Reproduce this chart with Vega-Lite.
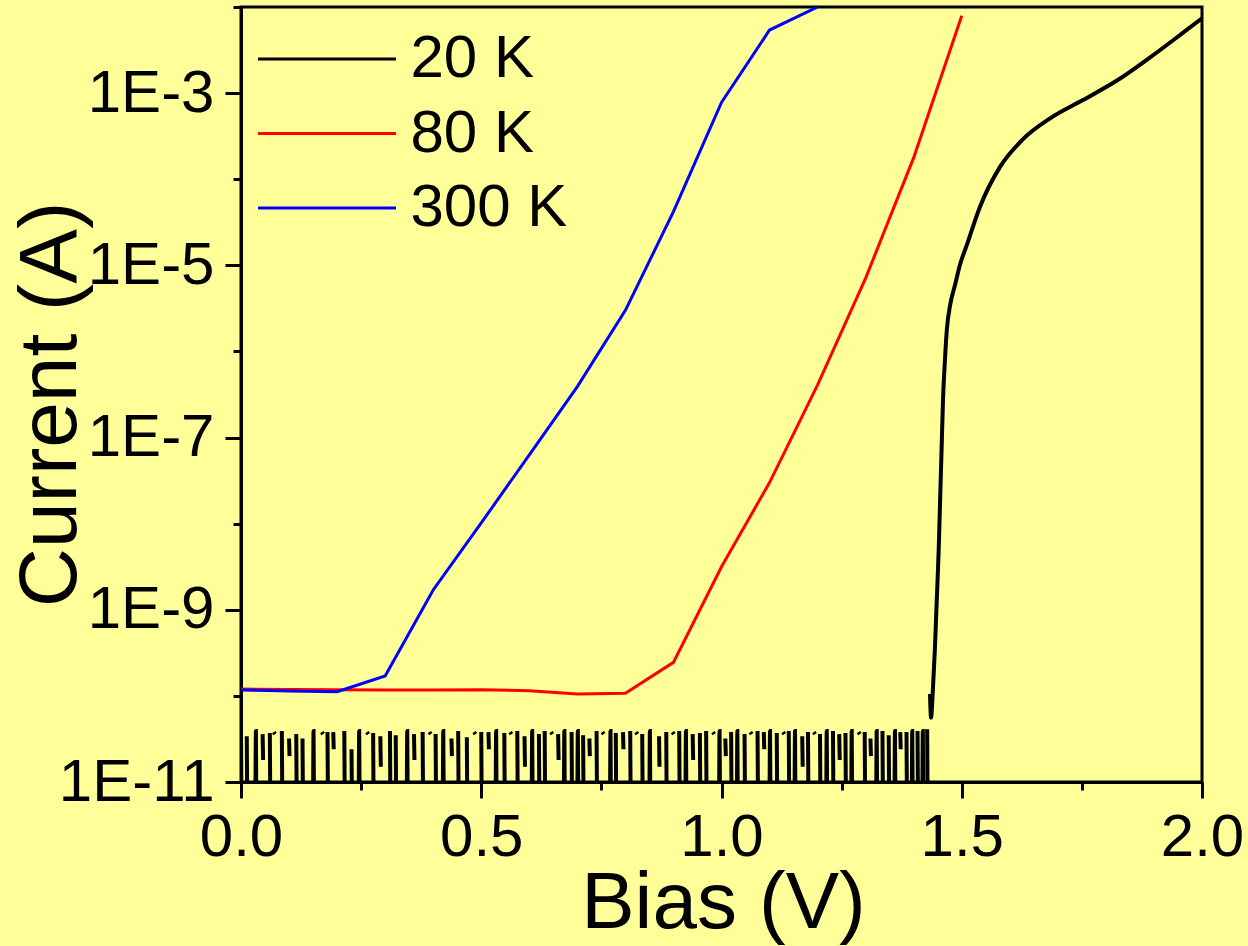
{
"$schema":"https://vega.github.io/schema/vega-lite/v6.json",
"width":961,"height":775,
"autosize":{"type":"none"},
"padding":{"left":241,"top":7,"right":46,"bottom":164},
"background":"#ffff99",
"config":{"view":{"stroke":"#000000","strokeWidth":3,"fill":"#ffff99"},"font":"Liberation Sans"},
"data":{"values":[
{"T":"20 K","V":0.000,"I":4.0e-11},{"T":"20 K","V":0.001,"I":5e-12},{"T":"20 K","V":0.002,"I":null},
{"T":"20 K","V":0.012,"I":3.4e-11},{"T":"20 K","V":0.013,"I":5e-12},{"T":"20 K","V":0.014,"I":null},
{"T":"20 K","V":0.030,"I":5e-12},{"T":"20 K","V":0.031,"I":3.9e-11},{"T":"20 K","V":0.032,"I":5e-12},{"T":"20 K","V":0.033,"I":null},
{"T":"20 K","V":0.045,"I":3.6e-11},{"T":"20 K","V":0.046,"I":1.8e-11},{"T":"20 K","V":0.047,"I":null},
{"T":"20 K","V":0.060,"I":3.7e-11},{"T":"20 K","V":0.061,"I":5e-12},{"T":"20 K","V":0.062,"I":null},
{"T":"20 K","V":0.068,"I":3.8e-11},{"T":"20 K","V":0.071,"I":3.6e-11},{"T":"20 K","V":0.072,"I":null},
{"T":"20 K","V":0.085,"I":3.9e-11},{"T":"20 K","V":0.086,"I":5e-12},{"T":"20 K","V":0.087,"I":null},
{"T":"20 K","V":0.100,"I":3.2e-11},{"T":"20 K","V":0.101,"I":2.0e-11},{"T":"20 K","V":0.102,"I":null},
{"T":"20 K","V":0.115,"I":3.6e-11},{"T":"20 K","V":0.116,"I":5e-12},{"T":"20 K","V":0.117,"I":null},
{"T":"20 K","V":0.128,"I":3.2e-11},{"T":"20 K","V":0.129,"I":5e-12},{"T":"20 K","V":0.130,"I":null},
{"T":"20 K","V":0.150,"I":5e-12},{"T":"20 K","V":0.151,"I":3.9e-11},{"T":"20 K","V":0.152,"I":5e-12},{"T":"20 K","V":0.153,"I":null},
{"T":"20 K","V":0.168,"I":3.8e-11},{"T":"20 K","V":0.171,"I":3.6e-11},{"T":"20 K","V":0.172,"I":null},
{"T":"20 K","V":0.180,"I":3.8e-11},{"T":"20 K","V":0.181,"I":5e-12},{"T":"20 K","V":0.182,"I":null},
{"T":"20 K","V":0.192,"I":3.8e-11},{"T":"20 K","V":0.193,"I":2.4e-11},{"T":"20 K","V":0.194,"I":null},
{"T":"20 K","V":0.215,"I":3.9e-11},{"T":"20 K","V":0.216,"I":5e-12},{"T":"20 K","V":0.217,"I":null},
{"T":"20 K","V":0.230,"I":2.4e-11},{"T":"20 K","V":0.231,"I":5e-12},{"T":"20 K","V":0.232,"I":null},
{"T":"20 K","V":0.245,"I":5e-12},{"T":"20 K","V":0.246,"I":3.9e-11},{"T":"20 K","V":0.247,"I":5e-12},{"T":"20 K","V":0.248,"I":null},
{"T":"20 K","V":0.262,"I":3.8e-11},{"T":"20 K","V":0.265,"I":3.6e-11},{"T":"20 K","V":0.266,"I":null},
{"T":"20 K","V":0.275,"I":3.7e-11},{"T":"20 K","V":0.276,"I":5e-12},{"T":"20 K","V":0.277,"I":null},
{"T":"20 K","V":0.290,"I":3.4e-11},{"T":"20 K","V":0.291,"I":1.5e-11},{"T":"20 K","V":0.292,"I":null},
{"T":"20 K","V":0.310,"I":3.9e-11},{"T":"20 K","V":0.311,"I":5e-12},{"T":"20 K","V":0.312,"I":null},
{"T":"20 K","V":0.322,"I":3.5e-11},{"T":"20 K","V":0.323,"I":5e-12},{"T":"20 K","V":0.324,"I":null},
{"T":"20 K","V":0.345,"I":5e-12},{"T":"20 K","V":0.346,"I":3.9e-11},{"T":"20 K","V":0.347,"I":5e-12},{"T":"20 K","V":0.348,"I":null},
{"T":"20 K","V":0.360,"I":3.6e-11},{"T":"20 K","V":0.361,"I":1.8e-11},{"T":"20 K","V":0.362,"I":null},
{"T":"20 K","V":0.378,"I":3.8e-11},{"T":"20 K","V":0.379,"I":5e-12},{"T":"20 K","V":0.380,"I":null},
{"T":"20 K","V":0.392,"I":3.8e-11},{"T":"20 K","V":0.395,"I":3.6e-11},{"T":"20 K","V":0.396,"I":null},
{"T":"20 K","V":0.405,"I":3.6e-11},{"T":"20 K","V":0.406,"I":5e-12},{"T":"20 K","V":0.407,"I":null},
{"T":"20 K","V":0.420,"I":5e-12},{"T":"20 K","V":0.421,"I":3.9e-11},{"T":"20 K","V":0.422,"I":5e-12},{"T":"20 K","V":0.423,"I":null},
{"T":"20 K","V":0.438,"I":3.2e-11},{"T":"20 K","V":0.439,"I":2.0e-11},{"T":"20 K","V":0.440,"I":null},
{"T":"20 K","V":0.452,"I":3.9e-11},{"T":"20 K","V":0.453,"I":5e-12},{"T":"20 K","V":0.454,"I":null},
{"T":"20 K","V":0.470,"I":3.3e-11},{"T":"20 K","V":0.471,"I":5e-12},{"T":"20 K","V":0.472,"I":null},
{"T":"20 K","V":0.485,"I":3.8e-11},{"T":"20 K","V":0.488,"I":3.6e-11},{"T":"20 K","V":0.489,"I":null},
{"T":"20 K","V":0.500,"I":3.8e-11},{"T":"20 K","V":0.501,"I":5e-12},{"T":"20 K","V":0.502,"I":null},
{"T":"20 K","V":0.515,"I":3.8e-11},{"T":"20 K","V":0.516,"I":2.4e-11},{"T":"20 K","V":0.517,"I":null},
{"T":"20 K","V":0.530,"I":5e-12},{"T":"20 K","V":0.531,"I":3.9e-11},{"T":"20 K","V":0.532,"I":5e-12},{"T":"20 K","V":0.533,"I":null},
{"T":"20 K","V":0.548,"I":3.7e-11},{"T":"20 K","V":0.549,"I":5e-12},{"T":"20 K","V":0.550,"I":null},
{"T":"20 K","V":0.560,"I":3.8e-11},{"T":"20 K","V":0.563,"I":3.6e-11},{"T":"20 K","V":0.564,"I":null},
{"T":"20 K","V":0.575,"I":3.9e-11},{"T":"20 K","V":0.576,"I":5e-12},{"T":"20 K","V":0.577,"I":null},
{"T":"20 K","V":0.590,"I":3.4e-11},{"T":"20 K","V":0.591,"I":1.5e-11},{"T":"20 K","V":0.592,"I":null},
{"T":"20 K","V":0.605,"I":5e-12},{"T":"20 K","V":0.606,"I":3.9e-11},{"T":"20 K","V":0.607,"I":5e-12},{"T":"20 K","V":0.608,"I":null},
{"T":"20 K","V":0.620,"I":3.6e-11},{"T":"20 K","V":0.621,"I":5e-12},{"T":"20 K","V":0.622,"I":null},
{"T":"20 K","V":0.632,"I":3.9e-11},{"T":"20 K","V":0.633,"I":5e-12},{"T":"20 K","V":0.634,"I":null},
{"T":"20 K","V":0.645,"I":3.8e-11},{"T":"20 K","V":0.648,"I":3.6e-11},{"T":"20 K","V":0.649,"I":null},
{"T":"20 K","V":0.660,"I":3.6e-11},{"T":"20 K","V":0.661,"I":1.8e-11},{"T":"20 K","V":0.662,"I":null},
{"T":"20 K","V":0.672,"I":5e-12},{"T":"20 K","V":0.673,"I":3.9e-11},{"T":"20 K","V":0.674,"I":5e-12},{"T":"20 K","V":0.675,"I":null},
{"T":"20 K","V":0.688,"I":3.8e-11},{"T":"20 K","V":0.689,"I":5e-12},{"T":"20 K","V":0.690,"I":null},
{"T":"20 K","V":0.700,"I":5e-12},{"T":"20 K","V":0.701,"I":3.9e-11},{"T":"20 K","V":0.702,"I":5e-12},{"T":"20 K","V":0.703,"I":null},
{"T":"20 K","V":0.712,"I":3.5e-11},{"T":"20 K","V":0.713,"I":5e-12},{"T":"20 K","V":0.714,"I":null},
{"T":"20 K","V":0.725,"I":3.2e-11},{"T":"20 K","V":0.726,"I":2.0e-11},{"T":"20 K","V":0.727,"I":null},
{"T":"20 K","V":0.740,"I":3.9e-11},{"T":"20 K","V":0.741,"I":5e-12},{"T":"20 K","V":0.742,"I":null},
{"T":"20 K","V":0.752,"I":3.8e-11},{"T":"20 K","V":0.755,"I":3.6e-11},{"T":"20 K","V":0.756,"I":null},
{"T":"20 K","V":0.768,"I":5e-12},{"T":"20 K","V":0.769,"I":3.9e-11},{"T":"20 K","V":0.770,"I":5e-12},{"T":"20 K","V":0.771,"I":null},
{"T":"20 K","V":0.780,"I":3.7e-11},{"T":"20 K","V":0.781,"I":5e-12},{"T":"20 K","V":0.782,"I":null},
{"T":"20 K","V":0.795,"I":3.8e-11},{"T":"20 K","V":0.796,"I":2.4e-11},{"T":"20 K","V":0.797,"I":null},
{"T":"20 K","V":0.810,"I":3.9e-11},{"T":"20 K","V":0.811,"I":5e-12},{"T":"20 K","V":0.812,"I":null},
{"T":"20 K","V":0.822,"I":3.8e-11},{"T":"20 K","V":0.825,"I":3.6e-11},{"T":"20 K","V":0.826,"I":null},
{"T":"20 K","V":0.835,"I":3.6e-11},{"T":"20 K","V":0.836,"I":5e-12},{"T":"20 K","V":0.837,"I":null},
{"T":"20 K","V":0.850,"I":5e-12},{"T":"20 K","V":0.851,"I":3.9e-11},{"T":"20 K","V":0.852,"I":5e-12},{"T":"20 K","V":0.853,"I":null},
{"T":"20 K","V":0.870,"I":3.4e-11},{"T":"20 K","V":0.871,"I":1.5e-11},{"T":"20 K","V":0.872,"I":null},
{"T":"20 K","V":0.885,"I":3.8e-11},{"T":"20 K","V":0.886,"I":5e-12},{"T":"20 K","V":0.887,"I":null},
{"T":"20 K","V":0.898,"I":3.8e-11},{"T":"20 K","V":0.901,"I":3.6e-11},{"T":"20 K","V":0.902,"I":null},
{"T":"20 K","V":0.912,"I":3.9e-11},{"T":"20 K","V":0.913,"I":5e-12},{"T":"20 K","V":0.914,"I":null},
{"T":"20 K","V":0.925,"I":5e-12},{"T":"20 K","V":0.926,"I":3.9e-11},{"T":"20 K","V":0.927,"I":5e-12},{"T":"20 K","V":0.928,"I":null},
{"T":"20 K","V":0.940,"I":3.6e-11},{"T":"20 K","V":0.941,"I":1.8e-11},{"T":"20 K","V":0.942,"I":null},
{"T":"20 K","V":0.955,"I":3.7e-11},{"T":"20 K","V":0.956,"I":5e-12},{"T":"20 K","V":0.957,"I":null},
{"T":"20 K","V":0.968,"I":3.9e-11},{"T":"20 K","V":0.969,"I":5e-12},{"T":"20 K","V":0.970,"I":null},
{"T":"20 K","V":0.982,"I":3.8e-11},{"T":"20 K","V":0.985,"I":3.6e-11},{"T":"20 K","V":0.986,"I":null},
{"T":"20 K","V":0.995,"I":5e-12},{"T":"20 K","V":0.996,"I":3.9e-11},{"T":"20 K","V":0.997,"I":5e-12},{"T":"20 K","V":0.998,"I":null},
{"T":"20 K","V":1.008,"I":3.2e-11},{"T":"20 K","V":1.009,"I":2.0e-11},{"T":"20 K","V":1.010,"I":null},
{"T":"20 K","V":1.020,"I":3.8e-11},{"T":"20 K","V":1.021,"I":5e-12},{"T":"20 K","V":1.022,"I":null},
{"T":"20 K","V":1.032,"I":5e-12},{"T":"20 K","V":1.033,"I":3.9e-11},{"T":"20 K","V":1.034,"I":5e-12},{"T":"20 K","V":1.035,"I":null},
{"T":"20 K","V":1.048,"I":3.6e-11},{"T":"20 K","V":1.049,"I":5e-12},{"T":"20 K","V":1.050,"I":null},
{"T":"20 K","V":1.060,"I":3.8e-11},{"T":"20 K","V":1.063,"I":3.6e-11},{"T":"20 K","V":1.064,"I":null},
{"T":"20 K","V":1.075,"I":3.9e-11},{"T":"20 K","V":1.076,"I":5e-12},{"T":"20 K","V":1.077,"I":null},
{"T":"20 K","V":1.088,"I":3.8e-11},{"T":"20 K","V":1.089,"I":2.4e-11},{"T":"20 K","V":1.090,"I":null},
{"T":"20 K","V":1.100,"I":5e-12},{"T":"20 K","V":1.101,"I":3.9e-11},{"T":"20 K","V":1.102,"I":5e-12},{"T":"20 K","V":1.103,"I":null},
{"T":"20 K","V":1.115,"I":3.7e-11},{"T":"20 K","V":1.116,"I":5e-12},{"T":"20 K","V":1.117,"I":null},
{"T":"20 K","V":1.128,"I":3.8e-11},{"T":"20 K","V":1.131,"I":3.6e-11},{"T":"20 K","V":1.132,"I":null},
{"T":"20 K","V":1.140,"I":3.9e-11},{"T":"20 K","V":1.141,"I":5e-12},{"T":"20 K","V":1.142,"I":null},
{"T":"20 K","V":1.152,"I":5e-12},{"T":"20 K","V":1.153,"I":3.9e-11},{"T":"20 K","V":1.154,"I":5e-12},{"T":"20 K","V":1.155,"I":null},
{"T":"20 K","V":1.168,"I":3.4e-11},{"T":"20 K","V":1.169,"I":1.5e-11},{"T":"20 K","V":1.170,"I":null},
{"T":"20 K","V":1.180,"I":3.8e-11},{"T":"20 K","V":1.181,"I":5e-12},{"T":"20 K","V":1.182,"I":null},
{"T":"20 K","V":1.192,"I":3.8e-11},{"T":"20 K","V":1.195,"I":3.6e-11},{"T":"20 K","V":1.196,"I":null},
{"T":"20 K","V":1.205,"I":3.6e-11},{"T":"20 K","V":1.206,"I":5e-12},{"T":"20 K","V":1.207,"I":null},
{"T":"20 K","V":1.218,"I":5e-12},{"T":"20 K","V":1.219,"I":3.9e-11},{"T":"20 K","V":1.220,"I":5e-12},{"T":"20 K","V":1.221,"I":null},
{"T":"20 K","V":1.232,"I":3.9e-11},{"T":"20 K","V":1.233,"I":5e-12},{"T":"20 K","V":1.234,"I":null},
{"T":"20 K","V":1.245,"I":3.6e-11},{"T":"20 K","V":1.246,"I":1.8e-11},{"T":"20 K","V":1.247,"I":null},
{"T":"20 K","V":1.258,"I":3.7e-11},{"T":"20 K","V":1.259,"I":5e-12},{"T":"20 K","V":1.260,"I":null},
{"T":"20 K","V":1.270,"I":5e-12},{"T":"20 K","V":1.271,"I":3.9e-11},{"T":"20 K","V":1.272,"I":5e-12},{"T":"20 K","V":1.273,"I":null},
{"T":"20 K","V":1.285,"I":3.8e-11},{"T":"20 K","V":1.288,"I":3.6e-11},{"T":"20 K","V":1.289,"I":null},
{"T":"20 K","V":1.298,"I":3.8e-11},{"T":"20 K","V":1.299,"I":5e-12},{"T":"20 K","V":1.300,"I":null},
{"T":"20 K","V":1.310,"I":3.2e-11},{"T":"20 K","V":1.311,"I":2.0e-11},{"T":"20 K","V":1.312,"I":null},
{"T":"20 K","V":1.322,"I":5e-12},{"T":"20 K","V":1.323,"I":3.9e-11},{"T":"20 K","V":1.324,"I":5e-12},{"T":"20 K","V":1.325,"I":null},
{"T":"20 K","V":1.335,"I":3.9e-11},{"T":"20 K","V":1.336,"I":5e-12},{"T":"20 K","V":1.337,"I":null},
{"T":"20 K","V":1.348,"I":3.5e-11},{"T":"20 K","V":1.349,"I":5e-12},{"T":"20 K","V":1.350,"I":null},
{"T":"20 K","V":1.360,"I":5e-12},{"T":"20 K","V":1.361,"I":3.9e-11},{"T":"20 K","V":1.362,"I":5e-12},{"T":"20 K","V":1.363,"I":null},
{"T":"20 K","V":1.372,"I":3.8e-11},{"T":"20 K","V":1.373,"I":2.4e-11},{"T":"20 K","V":1.374,"I":null},
{"T":"20 K","V":1.385,"I":3.8e-11},{"T":"20 K","V":1.386,"I":5e-12},{"T":"20 K","V":1.387,"I":null},
{"T":"20 K","V":1.396,"I":5e-12},{"T":"20 K","V":1.397,"I":3.9e-11},{"T":"20 K","V":1.398,"I":5e-12},{"T":"20 K","V":1.399,"I":null},
{"T":"20 K","V":1.408,"I":3.9e-11},{"T":"20 K","V":1.409,"I":5e-12},{"T":"20 K","V":1.410,"I":null},
{"T":"20 K","V":1.418,"I":5e-12},{"T":"20 K","V":1.419,"I":3.9e-11},{"T":"20 K","V":1.420,"I":5e-12},{"T":"20 K","V":1.421,"I":null},
{"T":"20 K","V":1.428,"I":4.1e-11},{"T":"20 K","V":1.429,"I":5e-12},{"T":"20 K","V":1.430,"I":null},
{"T":"20 K","V":1.434,"I":1.05e-10},{"T":"20 K","V":1.436,"I":5.6e-11},{"T":"20 K","V":1.440,"I":1.2e-10},{"T":"20 K","V":1.444,"I":3.4e-10},{"T":"20 K","V":1.448,"I":1.3e-9},
{"T":"20 K","V":1.452,"I":4.9e-9},{"T":"20 K","V":1.455,"I":1.9e-8},{"T":"20 K","V":1.458,"I":7.2e-8},{"T":"20 K","V":1.461,"I":2.75e-7},{"T":"20 K","V":1.465,"I":7.9e-7},
{"T":"20 K","V":1.469,"I":1.8e-6},{"T":"20 K","V":1.476,"I":3.5e-6},{"T":"20 K","V":1.486,"I":5.9e-6},{"T":"20 K","V":1.496,"I":1.0e-5},{"T":"20 K","V":1.511,"I":1.75e-5},
{"T":"20 K","V":1.538,"I":4.8e-5},{"T":"20 K","V":1.580,"I":1.4e-4},{"T":"20 K","V":1.627,"I":2.9e-4},{"T":"20 K","V":1.684,"I":5.1e-4},{"T":"20 K","V":1.752,"I":8.3e-4},
{"T":"20 K","V":1.823,"I":1.4e-3},{"T":"20 K","V":1.892,"I":2.6e-3},{"T":"20 K","V":1.960,"I":5.0e-3},{"T":"20 K","V":2.000,"I":7.4e-3},
{"T":"80 K","V":0.0,"I":1.2e-10},{"T":"80 K","V":0.1,"I":1.19e-10},{"T":"80 K","V":0.2,"I":1.18e-10},{"T":"80 K","V":0.3,"I":1.17e-10},{"T":"80 K","V":0.4,"I":1.17e-10},
{"T":"80 K","V":0.5,"I":1.18e-10},{"T":"80 K","V":0.6,"I":1.15e-10},{"T":"80 K","V":0.7,"I":1.05e-10},{"T":"80 K","V":0.8,"I":1.07e-10},{"T":"80 K","V":0.9,"I":2.45e-10},
{"T":"80 K","V":1.0,"I":3.16e-9},{"T":"80 K","V":1.1,"I":3.0e-8},{"T":"80 K","V":1.2,"I":4.1e-7},{"T":"80 K","V":1.3,"I":7.1e-6},{"T":"80 K","V":1.4,"I":1.78e-4},{"T":"80 K","V":1.5,"I":7.9e-3},
{"T":"300 K","V":0.0,"I":1.17e-10},{"T":"300 K","V":0.1,"I":1.14e-10},{"T":"300 K","V":0.2,"I":1.12e-10},{"T":"300 K","V":0.3,"I":1.7e-10},{"T":"300 K","V":0.4,"I":1.7e-9},
{"T":"300 K","V":0.5,"I":1.02e-8},{"T":"300 K","V":0.6,"I":6.3e-8},{"T":"300 K","V":0.7,"I":3.9e-7},{"T":"300 K","V":0.8,"I":3.0e-6},{"T":"300 K","V":0.9,"I":4.2e-5},
{"T":"300 K","V":1.0,"I":7.8e-4},{"T":"300 K","V":1.1,"I":5.4e-3},{"T":"300 K","V":1.2,"I":1.0e-2}
]},
"encoding":{
"x":{"field":"V","type":"quantitative","scale":{"domain":[0,2],"nice":false,"zero":false},
 "axis":{"title":"Bias (V)","values":[0,0.25,0.5,0.75,1,1.25,1.5,1.75,2],
  "labelExpr":"round(datum.value*100) % 50 == 0 ? format(datum.value, '.1f') : ''",
  "grid":false,"domainColor":"#000000","domainWidth":3,"tickColor":"#000000","tickWidth":3,
  "tickSize":{"condition":{"test":"round(datum.value*100) % 50 == 0","value":16},"value":8},
  "labelFont":"Liberation Sans","labelFontSize":60,"labelColor":"#000000","labelPadding":10,"labelFlush":false,"labelOverlap":false,"labelBound":false,
  "titleFont":"Liberation Sans","titleFontSize":80,"titleFontWeight":"normal","titleColor":"#000000","titleX":482,"titleY":145,"titleBaseline":"alphabetic","titleAlign":"center"}},
"y":{"field":"I","type":"quantitative","scale":{"type":"log","domain":[1e-11,0.01],"nice":false},
 "axis":{"title":"Current (A)","values":[1e-11,1e-10,1e-9,1e-8,1e-7,1e-6,1e-5,1e-4,1e-3,1e-2],
  "labelExpr":"abs(round(log(datum.value)/LN10)) % 2 == 1 ? '1E' + round(log(datum.value)/LN10) : ''",
  "grid":false,"domainColor":"#000000","domainWidth":3,"tickColor":"#000000","tickWidth":3,
  "tickSize":{"condition":{"test":"abs(round(log(datum.value)/LN10)) % 2 == 1","value":16},"value":8},
  "labelFont":"Liberation Sans","labelFontSize":60,"labelColor":"#000000","labelPadding":11,"labelFlush":false,"labelOverlap":false,"labelBound":false,
  "titleFont":"Liberation Sans","titleFontSize":82,"titleFontWeight":"normal","titleColor":"#000000","titleX":-166,"titleY":397,"titleAngle":270,"titleBaseline":"alphabetic","titleAlign":"center"}},
"color":{"field":"T","type":"nominal","scale":{"domain":["20 K","80 K","300 K"],"range":["#000000","#ff0000","#0000ff"]},
 "legend":{"orient":"none","legendX":15.5,"legendY":22,"title":null,"symbolType":"stroke","symbolSize":19044,"symbolStrokeWidth":3,
  "labelFont":"Liberation Sans","labelFontSize":60,"labelColor":"#000000","labelOffset":13,"clipHeight":60,"rowPadding":14.5,"padding":0,"labelLimit":400}}
},
"layer":[
 {"transform":[{"filter":"datum.T != '20 K'"}],"mark":{"type":"line","strokeWidth":3,"clip":true,"invalid":"break-paths-show-domains"}},
 {"transform":[{"filter":"datum.T == '20 K'"}],"mark":{"type":"line","strokeWidth":4,"clip":true,"interpolate":"monotone","invalid":"break-paths-show-domains"}}
]
}
